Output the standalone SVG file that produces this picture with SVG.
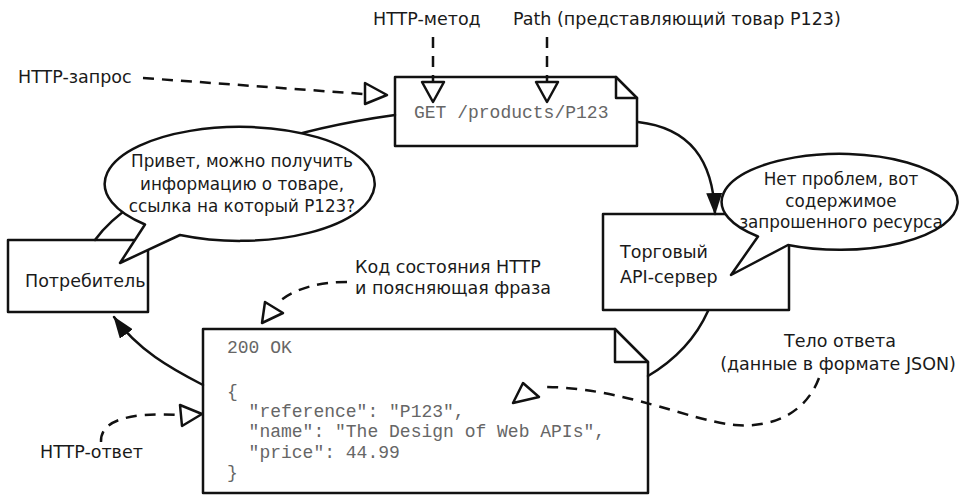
<svg xmlns="http://www.w3.org/2000/svg" width="963" height="496" viewBox="0 0 963 496">
<style>
.ln{fill:none;stroke:#111;stroke-width:2.5;stroke-linejoin:round;stroke-linecap:round}
.box{fill:#fff;stroke:#111;stroke-width:2.5;stroke-linejoin:round}
.dash{fill:none;stroke:#111;stroke-width:2.5;stroke-dasharray:11 8}
.hollow{fill:#fff;stroke:#111;stroke-width:2.5;stroke-linejoin:round}
.lbl{font-family:"DejaVu Sans","Liberation Sans",sans-serif;font-size:17.5px;fill:#1a1a1a}
.bub{font-family:"DejaVu Sans","Liberation Sans",sans-serif;font-size:16.8px;fill:#1a1a1a;text-anchor:middle}
.mid{text-anchor:middle}
.code{font-family:"Liberation Mono","Courier New",monospace;font-size:18px;fill:#666}
</style>
<defs>
<marker id="arrow" viewBox="0 0 22 16" refX="21" refY="8" markerWidth="22" markerHeight="16" markerUnits="userSpaceOnUse" orient="auto">
<path d="M0,0 L22,8 L0,16 Z" fill="#111"/>
</marker>
</defs>

<g id="consumer">
<rect class="box" x="8" y="240" width="140" height="72"/>
<text class="lbl" x="25" y="287">Потребитель</text>
</g>

<g id="server">
<rect class="box" x="603" y="214" width="186" height="96"/>
<text class="lbl" x="620" y="258">Торговый</text>
<text class="lbl" x="620" y="283">API-сервер</text>
</g>

<g id="request">
<path class="box" d="M395,77 L616,77 L637,98 L637,146 L395,146 Z"/>
<path class="ln" d="M616,77 L616,98 L637,98"/>
<text class="code" x="414" y="118">GET /products/P123</text>
</g>

<g id="response">
<path class="box" d="M203,329 L615,329 L648,362 L648,493 L203,493 Z"/>
<path class="ln" d="M615,329 L615,362 L648,362"/>
<text class="code" x="227" y="353">200 OK</text>
<text class="code" x="227" y="397">{</text>
<text class="code" x="227" y="417" xml:space="preserve">  "reference": "P123",</text>
<text class="code" x="227" y="437" xml:space="preserve">  "name": "The Design of Web APIs",</text>
<text class="code" x="227" y="458" xml:space="preserve">  "price": 44.99</text>
<text class="code" x="227" y="478">}</text>
</g>

<g id="connectors">
<path class="ln" d="M95,240 C130,190 250,135 395,115"/>
<path class="ln" d="M638,122 C690,128 713,160 715,214" marker-end="url(#arrow)"/>
<path class="ln" d="M708,311 C695,340 675,360 648,376"/>
<path class="ln" d="M203,385 C170,368 138,350 114,317" marker-end="url(#arrow)"/>

<path class="dash" d="M433,37 L433,82"/>
<polygon class="hollow" points="422,82 444,82 433,102"/>
<path class="dash" d="M547,37 L547,82"/>
<polygon class="hollow" points="536,82 558,82 547,102"/>
<path class="dash" d="M143,78 L364,94"/>
<polygon class="hollow" points="365,83 365,104 387,95"/>
<path class="dash" d="M347,282 C320,282 296,288 280,301"/>
<polygon class="hollow" points="262,323 265,302 283,313"/>
<path class="dash" d="M819,378 C805,415 770,428 735,425 C690,421 620,386 540,387"/>
<polygon class="hollow" points="513,403 523,383 539,397"/>
<path class="dash" d="M101,442 C100,420 130,412 180,415"/>
<polygon class="hollow" points="180,405 182,426 202,414"/>
</g>

<g id="consumer-bubble">
<path class="box" d="M145,224.5 A135,57 0 1 1 180,235 L120,263 Z"/>
<text class="bub" x="242" y="167">Привет, можно получить</text>
<text class="bub" x="242" y="190">информацию о товаре,</text>
<text class="bub" x="242" y="212">ссылка на который P123?</text>
</g>

<g id="server-bubble">
<path class="box" d="M758,236.5 A118,48 0 1 1 788,245 L731,275 Z"/>
<text class="bub" x="841" y="185">Нет проблем, вот</text>
<text class="bub" x="841" y="207">содержимое</text>
<text class="bub" x="841" y="228">запрошенного ресурса</text>
</g>

<g id="label-method"><text class="lbl" x="373" y="25">HTTP-метод</text></g>
<g id="label-path"><text class="lbl" x="513" y="25">Path (представляющий товар P123)</text></g>
<g id="label-request"><text class="lbl" x="18" y="83">HTTP-запрос</text></g>
<g id="label-status">
<text class="lbl" x="355" y="273">Код состояния HTTP</text>
<text class="lbl" x="355" y="294">и поясняющая фраза</text>
</g>
<g id="label-body">
<text class="lbl mid" x="840" y="347">Тело ответа</text>
<text class="lbl mid" x="838" y="370">(данные в формате JSON)</text>
</g>
<g id="label-response"><text class="lbl" x="40" y="458">HTTP-ответ</text></g>
</svg>
